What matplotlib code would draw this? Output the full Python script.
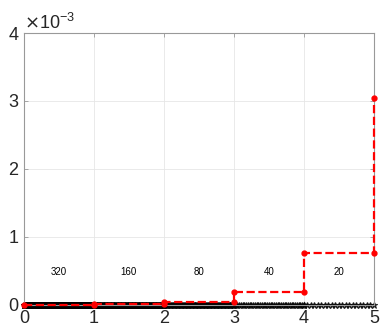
import matplotlib.pyplot as plt
import numpy as np
from matplotlib.ticker import ScalarFormatter

plt.rcParams['font.family'] = ['Liberation Sans', 'DejaVu Sans']

# grid sizes per unit interval and the error level reached on each level
n_pts = [320, 160, 80, 40, 20]
err = [0.003e-3, 0.012e-3, 0.047e-3, 0.19e-3, 0.76e-3, 3.04e-3]
lvl = [0, 1, 2, 3, 4, 5]

fig = plt.figure(figsize=(3.8, 3.3), dpi=100)
ax = fig.add_axes([0.063, 0.076, 0.921, 0.824])

# grid points of each level, sitting at zero
for k, n in enumerate(n_pts):
    xs = np.linspace(lvl[k], lvl[k + 1], n + 1)
    ax.plot(xs, np.zeros_like(xs), ls='none', marker='*', ms=5,
            mew=0.8, color='k', alpha=0.75, zorder=2, clip_on=False)

# staircase of the errors
sx, sy = [lvl[0]], [err[0]]
for k in range(1, len(lvl)):
    sx += [lvl[k], lvl[k]]
    sy += [err[k - 1], err[k]]
ax.plot(sx, sy, 'r--', lw=1.6, marker='o', ms=3.5, zorder=3, clip_on=False)

for k, n in enumerate(n_pts):
    ax.text(lvl[k] + 0.5, 0.48e-3, str(n), fontsize=7, ha='center',
            va='center', color='k')

ax.set_xlim(0, 5)
ax.set_ylim(0, 4e-3)
ax.set_xticks(lvl)
ax.set_yticks([0, 1e-3, 2e-3, 3e-3, 4e-3])
fmt = ScalarFormatter(useMathText=True)
fmt.set_powerlimits((-2, 2))
ax.yaxis.set_major_formatter(fmt)
ax.yaxis.get_offset_text().set_fontsize(13)
ax.yaxis.get_offset_text().set_color('0.15')

ax.grid(True, color='0.9', lw=0.6)
ax.set_axisbelow(True)
ax.tick_params(direction='in', top=True, right=True, labelsize=13,
               colors='0.6', labelcolor='0.15', length=3, width=0.6)
for s in ax.spines.values():
    s.set_color('0.6')
    s.set_linewidth(0.8)

fig.savefig('out.png', dpi=100)
